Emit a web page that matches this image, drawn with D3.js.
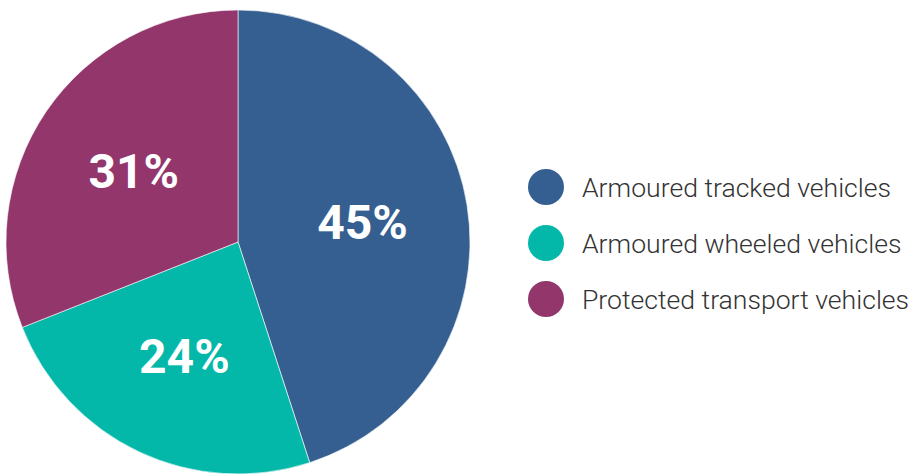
<!DOCTYPE html>
<html><head><meta charset="utf-8">
<script src="https://cdn.jsdelivr.net/npm/d3@7"></script>
<style>body{margin:0;background:#fff}svg{display:block}</style>
</head><body>
<svg id="chart" width="910" height="474"></svg>
<script>
const categories = ["Armoured tracked vehicles", "Armoured wheeled vehicles", "Protected transport vehicles"];
const values = [45, 24, 31];
const colors = ["#365f91", "#04b8a9", "#92366b"];

const svg = d3.select("#chart");
const cx = 238, cy = 242, R = 232;
const data = categories.map((c, i) => ({cat: c, value: values[i], color: colors[i]}));
const pie = d3.pie().value(d => d.value).sort(null);
const arc = d3.arc().innerRadius(0).outerRadius(R);
const labelArc = d3.arc().innerRadius(126).outerRadius(126);
const g = svg.append("g").attr("transform", `translate(${cx},${cy})`);
const arcs = pie(data);
g.selectAll("path").data(arcs).join("path")
  .attr("d", arc).attr("fill", d => d.data.color)
  .attr("stroke", "#fff").attr("stroke-width", 0.6);
g.selectAll("text").data(arcs).join("text")
  .attr("transform", d => `translate(${labelArc.centroid(d)})`)
  .attr("text-anchor", "middle").attr("dominant-baseline", "central")
  .attr("font-family", "Roboto").attr("font-weight", 700).attr("font-size", 48)
  .attr("fill", "#fff")
  .text(d => d.data.value + "%");

const legend = svg.append("g");
const ly = d3.scalePoint().domain(categories).range([187, 299]);
const items = legend.selectAll("g").data(data).join("g")
  .attr("transform", d => `translate(546,${ly(d.cat)})`);
items.append("circle").attr("r", 18).attr("fill", d => d.color);
items.append("text").attr("x", 36).attr("dominant-baseline", "central")
  .attr("font-family", "Roboto").attr("font-weight", 300).attr("font-size", 26.6)
  .attr("fill", "#333").text(d => d.cat);
</script>
</body></html>
